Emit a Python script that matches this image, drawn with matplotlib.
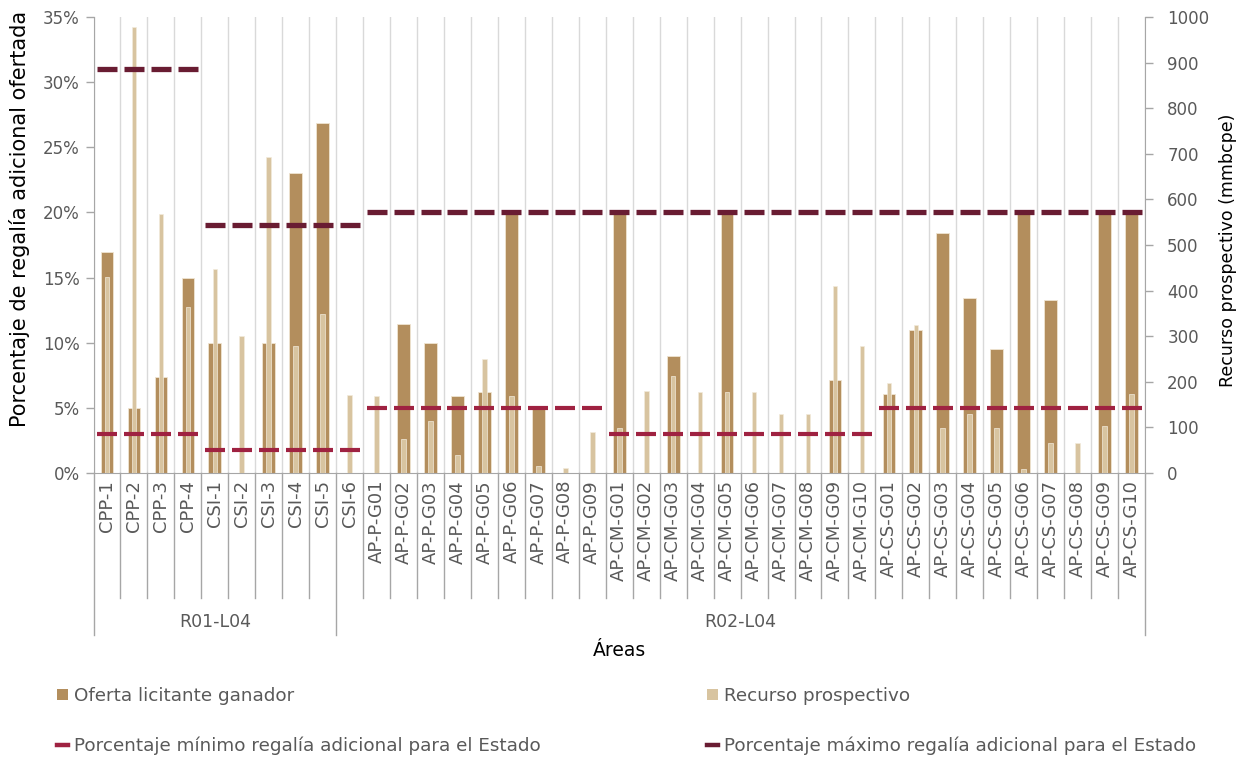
import numpy as np
import matplotlib
matplotlib.use("Agg")
import matplotlib.pyplot as plt
import matplotlib.transforms as mtransforms
from matplotlib.patches import Patch
from matplotlib.lines import Line2D

nan = np.nan

# Áreas contractuales
areas = [
    "CPP-1", "CPP-2", "CPP-3", "CPP-4",
    "CSI-1", "CSI-2", "CSI-3", "CSI-4", "CSI-5", "CSI-6",
    "AP-P-G01", "AP-P-G02", "AP-P-G03", "AP-P-G04", "AP-P-G05",
    "AP-P-G06", "AP-P-G07", "AP-P-G08", "AP-P-G09",
    "AP-CM-G01", "AP-CM-G02", "AP-CM-G03", "AP-CM-G04", "AP-CM-G05",
    "AP-CM-G06", "AP-CM-G07", "AP-CM-G08", "AP-CM-G09", "AP-CM-G10",
    "AP-CS-G01", "AP-CS-G02", "AP-CS-G03", "AP-CS-G04", "AP-CS-G05",
    "AP-CS-G06", "AP-CS-G07", "AP-CS-G08", "AP-CS-G09", "AP-CS-G10",
]

# Oferta del licitante ganador (% regalía adicional)
oferta = [
    17.0, 5.0, 7.4, 15.0,
    10.0, nan, 10.0, 23.0, 26.9, nan,
    nan, 11.4, 10.0, 5.9, 6.2, 20.0, 4.9, nan, nan,
    20.0, nan, 9.0, nan, 20.0, nan, nan, nan, 7.1, nan,
    6.1, 11.0, 18.4, 13.4, 9.5, 20.0, 13.3, nan, 20.0, 20.0,
]

# Recurso prospectivo (mmbcpe)
recurso = [
    429, 977, 569, 364,
    447, 301, 694, 279, 349, 170,
    169, 74, 113, 39, 250, 169, 15, 11, 90,
    98, 180, 213, 178, 178, 178, 129, 129, 410, 279,
    197, 325, 98, 129, 98, 9, 65, 65, 103, 173,
]

# Porcentajes mínimo y máximo de regalía adicional para el Estado
minimo = [3.0] * 4 + [1.8] * 6 + [5.0] * 9 + [3.0] * 10 + [5.0] * 10
maximo = [31.0] * 4 + [19.0] * 6 + [20.0] * 29

# Licitaciones
grupos = ["R01-L04", "R02-L04"]
grupo_n = [9, 30]

C_OFERTA = "#B38E5D"
C_RECURSO = "#D8C4A0"
C_MIN = "#9F2241"
C_MAX = "#691C32"
GRIS = "#595959"
EJE = "#A6A6A6"

plt.rcParams["font.family"] = ["DejaVu Sans"]

W, H = 1242, 759
fig = plt.figure(figsize=(W / 100, H / 100), dpi=100)
left, right, top, bottom = 93.5, 1145, 17, 473
ax = fig.add_axes([left / W, 1 - bottom / H, (right - left) / W, (bottom - top) / H])
ax2 = ax.twinx()

x = np.arange(len(areas))

# category gridlines
for b in np.arange(-0.5, len(areas), 1.0):
    ax.axvline(b, color="#D9D9D9", lw=1.0, zorder=0)

ax.bar(x, oferta, width=0.47, color=C_OFERTA, edgecolor="#EFE4D2",
       linewidth=0.6, zorder=2)
ax2.bar(x, recurso, width=0.17, color=C_RECURSO, edgecolor="#F2EADB",
        linewidth=0.5, zorder=2)
ax2.plot(x, minimo, ls="none", marker="_", ms=14.5, mew=3.0, color=C_MIN,
         transform=ax.transData, zorder=4)
ax2.plot(x, maximo, ls="none", marker="_", ms=15, mew=3.8, color=C_MAX,
         transform=ax.transData, zorder=4)

ax.set_xlim(-0.5, len(areas) - 0.5)
ax.set_ylim(0, 35)
ax2.set_ylim(0, 1000)

# axes styling
for a in (ax, ax2):
    a.spines["top"].set_visible(False)
ax.spines["right"].set_visible(False)
ax2.spines["left"].set_visible(False)
ax2.spines["bottom"].set_visible(False)
ax.spines["left"].set_color(EJE)
ax.spines["bottom"].set_color(EJE)
ax2.spines["right"].set_color(EJE)

yt = list(range(0, 36, 5))
ax.set_yticks(yt)
ax.set_yticklabels([f"{v}%" for v in yt])
ax.tick_params(axis="y", direction="out", length=6, width=1, color=EJE,
               labelcolor=GRIS, labelsize=12, pad=4)
ax2.set_yticks(range(0, 1001, 100))
ax2.tick_params(axis="y", direction="out", length=6, width=1, color=EJE,
                labelcolor=GRIS, labelsize=12, pad=10)

ax.set_xticks(x)
ax.set_xticklabels(areas, rotation=90, fontsize=13, color=GRIS)
ax.tick_params(axis="x", length=0, pad=5)

# category and group separators below the axis
trans = mtransforms.blended_transform_factory(ax.transData, ax.transAxes)
h = bottom - top
bounds = np.arange(-0.5, len(areas), 1.0)
group_edges = np.concatenate([[-0.5], -0.5 + np.cumsum(grupo_n)])
for b in bounds:
    is_group = np.any(np.isclose(b, group_edges))
    yend = -(635 - bottom) / h if is_group else -(598 - bottom) / h
    ax.plot([b, b], [0, yend], transform=trans, clip_on=False, color=EJE,
            lw=1.0, zorder=1)

for g, lo, hi in zip(grupos, group_edges[:-1], group_edges[1:]):
    ax.text((lo + hi) / 2, -(622 - bottom) / h, g, transform=trans,
            ha="center", va="center", fontsize=12.5, color=GRIS)

ax.text(0.5, -(651 - bottom) / h, "Áreas", transform=ax.transAxes,
        ha="center", va="center", fontsize=13.5, color="black")

fig.text(20 / W, 1 - 219 / H, "Porcentaje de regalía adicional ofertada",
         rotation=90, ha="center", va="center", fontsize=15, color="black")
fig.text(1228 / W, 1 - 250 / H, "Recurso prospectivo (mmbcpe)",
         rotation=90, ha="center", va="center", fontsize=12.5, color="black")

# legend in two columns
h_oferta = Patch(facecolor=C_OFERTA, edgecolor="none")
h_recurso = Patch(facecolor=C_RECURSO, edgecolor="none")
h_min = Line2D([], [], color=C_MIN, lw=3.2)
h_max = Line2D([], [], color=C_MAX, lw=3.2)
common = dict(loc="upper left", frameon=False, fontsize=13.2, labelcolor=GRIS,
              handlelength=0.6, handleheight=0.6, handletextpad=0.3,
              labelspacing=1.7, borderaxespad=0, borderpad=0)
fig.legend([h_oferta, h_min],
           ["Oferta licitante ganador",
            "Porcentaje mínimo regalía adicional para el Estado"],
           bbox_to_anchor=(57 / W, 1 - 687 / H), **common)
fig.legend([h_recurso, h_max],
           ["Recurso prospectivo",
            "Porcentaje máximo regalía adicional para el Estado"],
           bbox_to_anchor=(707 / W, 1 - 687 / H), **common)

fig.savefig("out.png", dpi=100)
